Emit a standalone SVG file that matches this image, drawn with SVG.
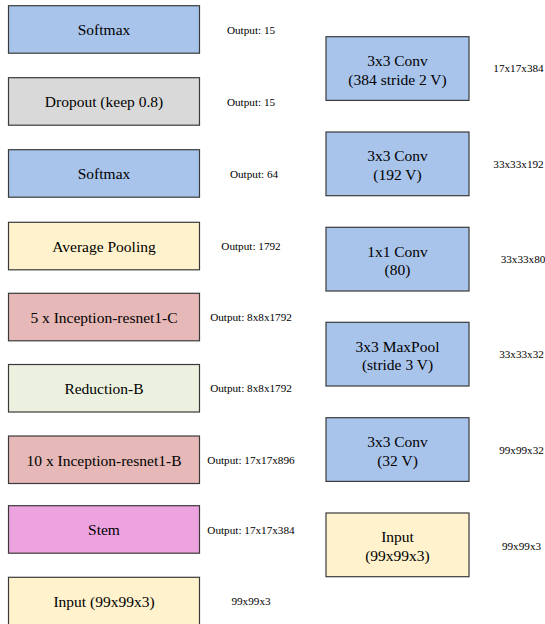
<svg xmlns="http://www.w3.org/2000/svg" width="545" height="624" viewBox="0 0 545 624">
<style>
rect{stroke:#3a3a3a;stroke-width:1.2}
.b{fill:#A9C4EB}.g{fill:#D9D9D9}.y{fill:#FFF2CC}.r{fill:#E6B8B7}.gr{fill:#EBF1DE}.m{fill:#EDA3E0}
text{fill:#000}
.t{font-size:15.5px;text-anchor:middle}
.s{font-size:11.2px;text-anchor:middle}
</style>
<rect width="545" height="624" fill="#fff" style="stroke:none"/>
<g font-family="Liberation Serif, DejaVu Serif, serif">
<g id="left-softmax2"><rect class="b" x="8.5" y="5.7" width="191" height="47.5"/><text class="t" x="104" y="35.2">Softmax</text><text class="s" x="251" y="33.5">Output: 15</text></g>
<g id="left-dropout"><rect class="g" x="8.5" y="77.7" width="191" height="47.5"/><text class="t" x="104" y="107.2">Dropout (keep 0.8)</text><text class="s" x="251" y="105.5">Output: 15</text></g>
<g id="left-softmax1"><rect class="b" x="8.5" y="149.7" width="191" height="47.5"/><text class="t" x="104" y="179.2">Softmax</text><text class="s" x="254" y="177.5">Output: 64</text></g>
<g id="left-avgpool"><rect class="y" x="8.5" y="222.3" width="191" height="47.5"/><text class="t" x="104" y="251.8">Average Pooling</text><text class="s" x="251" y="250.1">Output: 1792</text></g>
<g id="left-incC"><rect class="r" x="8.5" y="293.3" width="191" height="47.5"/><text class="t" x="104" y="322.8">5 x Inception-resnet1-C</text><text class="s" x="251" y="321.1">Output: 8x8x1792</text></g>
<g id="left-redB"><rect class="gr" x="8.5" y="364.5" width="191" height="47.5"/><text class="t" x="104" y="394">Reduction-B</text><text class="s" x="251" y="392.3">Output: 8x8x1792</text></g>
<g id="left-incB"><rect class="r" x="8.5" y="436" width="191" height="47.5"/><text class="t" x="104" y="465.5">10 x Inception-resnet1-B</text><text class="s" x="251" y="463.8">Output: 17x17x896</text></g>
<g id="left-stem"><rect class="m" x="8.5" y="505.7" width="191" height="47.5"/><text class="t" x="104" y="535.2">Stem</text><text class="s" x="251" y="533.5">Output: 17x17x384</text></g>
<g id="left-input"><rect class="y" x="8.5" y="577.3" width="191" height="47.5"/><text class="t" x="104" y="606.8">Input (99x99x3)</text><text class="s" x="251" y="605.1">99x99x3</text></g>
<g id="right-conv384"><rect class="b" x="326" y="36.7" width="143" height="63.7"/><text class="t" x="397.5" y="66"><tspan x="397.5">3x3 Conv</tspan><tspan x="397.5" y="84.5">(384 stride 2 V)</tspan></text><text class="s" x="518.5" y="72">17x17x384</text></g>
<g id="right-conv192"><rect class="b" x="326" y="132" width="143" height="63.7"/><text class="t" x="397.5" y="161.3"><tspan x="397.5">3x3 Conv</tspan><tspan x="397.5" y="179.8">(192 V)</tspan></text><text class="s" x="518.5" y="168">33x33x192</text></g>
<g id="right-conv80"><rect class="b" x="326" y="227.3" width="143" height="63.7"/><text class="t" x="397.5" y="256.6"><tspan x="397.5">1x1 Conv</tspan><tspan x="397.5" y="275.1">(80)</tspan></text><text class="s" x="523" y="263">33x33x80</text></g>
<g id="right-maxpool"><rect class="b" x="326" y="322.3" width="143" height="63.7"/><text class="t" x="397.5" y="351.6"><tspan x="397.5">3x3 MaxPool</tspan><tspan x="397.5" y="370.1">(stride 3 V)</tspan></text><text class="s" x="521.5" y="358">33x33x32</text></g>
<g id="right-conv32"><rect class="b" x="326" y="417.7" width="143" height="63.7"/><text class="t" x="397.5" y="447"><tspan x="397.5">3x3 Conv</tspan><tspan x="397.5" y="465.5">(32 V)</tspan></text><text class="s" x="521.5" y="453.5">99x99x32</text></g>
<g id="right-input"><rect class="y" x="326" y="513" width="143" height="63.7"/><text class="t" x="397.5" y="542.3"><tspan x="397.5">Input</tspan><tspan x="397.5" y="560.8">(99x99x3)</tspan></text><text class="s" x="521.5" y="549.5">99x99x3</text></g>
</g>
<g id="connectors"/>
</svg>
